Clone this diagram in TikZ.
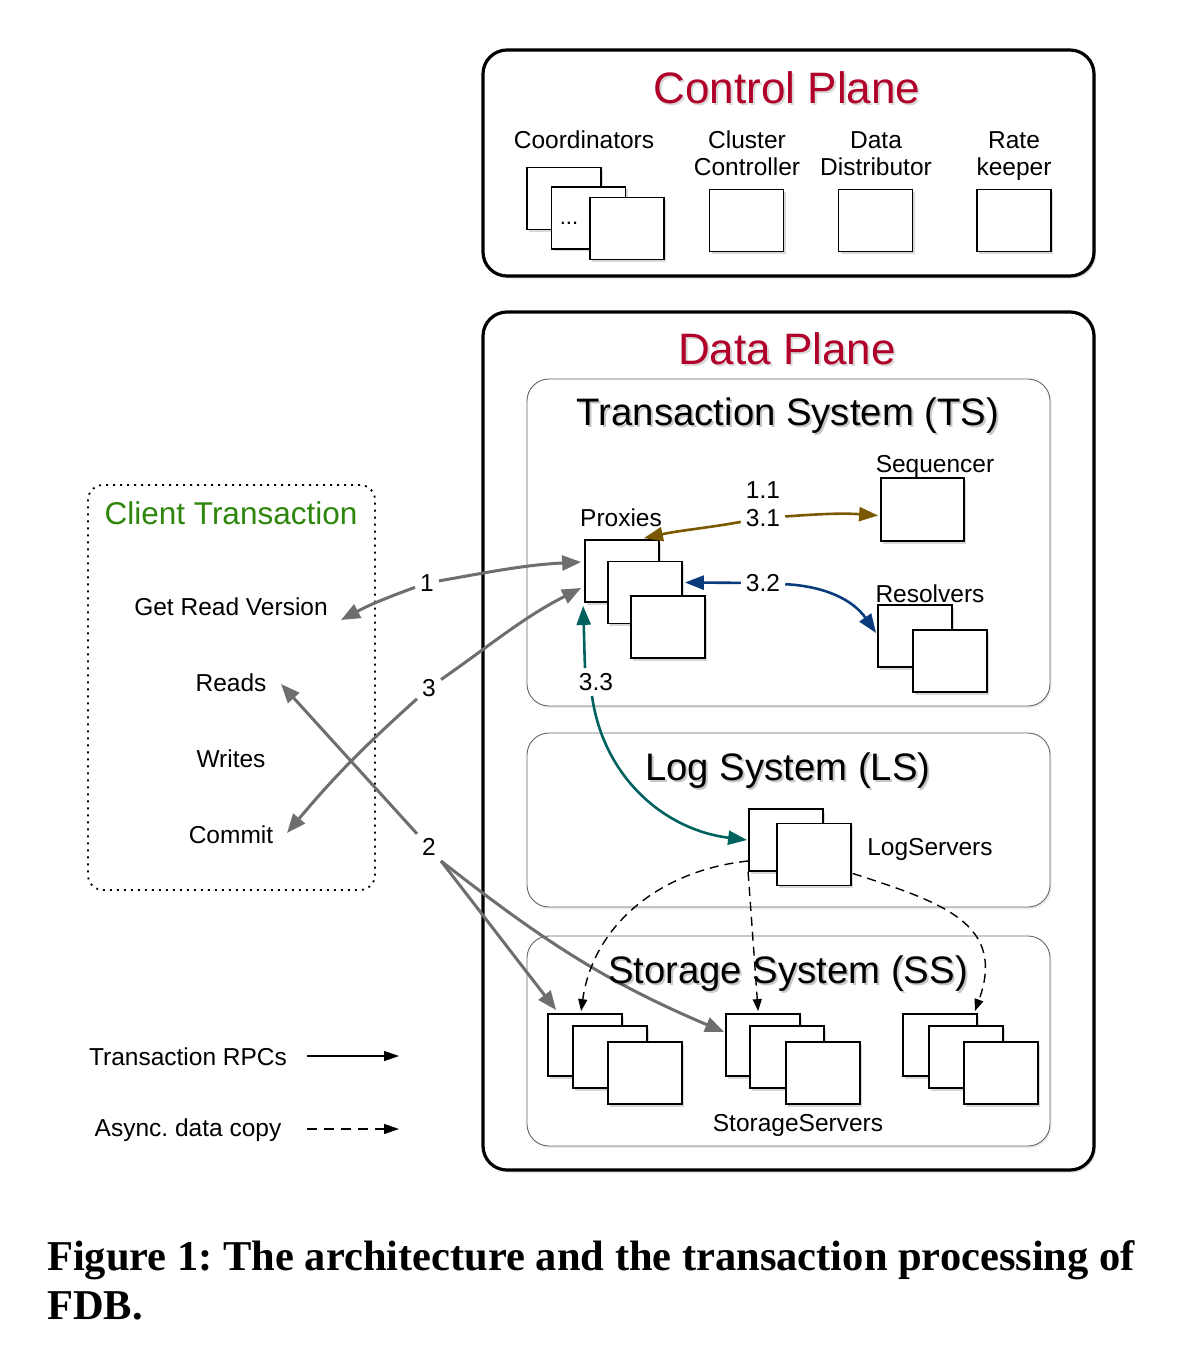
\documentclass[tikz,border=0pt]{standalone}
\usepackage{fontspec}
\setmainfont{Liberation Sans}
\newfontfamily\capfont{Liberation Serif}
\usetikzlibrary{arrows.meta,shadows,calc}
\definecolor{cpred}{HTML}{B0002A}
\definecolor{ctgreen}{HTML}{2E860C}
\definecolor{arrgray}{HTML}{6E6E6E}
\definecolor{brownarr}{HTML}{7A5800}
\definecolor{bluearr}{HTML}{0A3C7D}
\definecolor{tealarr}{HTML}{00625F}
\begin{document}
\frenchspacing
\begin{tikzpicture}[x=1pt,y=-1pt,
  srv/.style={draw=black, line width=1.8pt, fill=white, minimum width=74pt, minimum height=62pt, inner sep=0pt,
    drop shadow={shadow xshift=2pt, shadow yshift=-2.5pt, opacity=0.3}},
  plane/.style={draw=black, line width=3.2pt, rounded corners=24pt, fill=white, inner sep=0pt,
    drop shadow={shadow xshift=2pt, shadow yshift=-2.5pt, opacity=0.25}},
  sysbox/.style={draw=black!60, line width=0.9pt, rounded corners=22pt, fill=white, inner sep=0pt,
    drop shadow={shadow xshift=1.5pt, shadow yshift=-2pt, opacity=0.15}},
  lbl/.style={font=\fontsize{24.5}{27}\selectfont, inner sep=1pt, text height=17.6pt, text depth=0pt},
  lbl2/.style={font=\fontsize{24.5}{27}\selectfont, inner sep=1pt, align=center},
  num/.style={font=\fontsize{24.5}{27}\selectfont, inner sep=5pt, text height=17.6pt, text depth=0pt},
  bigt/.style={font=\fontsize{44}{50}\selectfont, inner sep=0pt, text height=31.7pt, text depth=0pt},
  syst/.style={font=\fontsize{38.3}{44}\selectfont, inner sep=0pt, text height=27.6pt, text depth=0pt},
  tsh/.style={text=black, opacity=0.22},
  garr/.style={draw=arrgray, line width=3pt, -{Triangle[length=19pt,width=15pt]}},
  brarr/.style={draw=brownarr, line width=2.6pt, -{Triangle[length=19pt,width=14pt]}},
  blarr/.style={draw=bluearr, line width=2.6pt, -{Triangle[length=19pt,width=14pt]}},
  tlarr/.style={draw=tealarr, line width=2.6pt, -{Triangle[length=19pt,width=14pt]}},
  dsh/.style={draw=black, line width=1.4pt, dash pattern=on 9pt off 6pt, -{Triangle[length=12pt,width=9pt]}},
  lgs/.style={draw=black, line width=1.3pt, -{Triangle[length=15pt,width=10pt]}},
  lgd/.style={draw=black, line width=1.3pt, dash pattern=on 10pt off 7pt, -{Triangle[length=15pt,width=10pt]}}
]
\useasboundingbox (0,0) rectangle (1192,1364);
\fill[white] (0,0) rectangle (1192,1364);

% ---------------- Control plane ----------------
\node[plane, minimum width=611pt, minimum height=226pt] (cp) at (788.5,163) {};
\node[bigt, tsh, opacity=0.15] (cpts) at (789,90) {Control Plane};
\node[bigt, text=cpred] (cpt) at (787,88) {Control Plane};

\node[lbl] (coordl) at (584,140) {Coordinators};
\node[lbl2] (ccl) at (747,153.4) {Cluster\\Controller};
\node[lbl2] (ddl) at (876,153.4) {Data\\Distributor};
\node[lbl2] (rkl) at (1014,155.9) {Rate\\keeper};

\node[srv] (c1) at (564,198.5) {};
\node[srv] (c2) at (588.5,218) {};
\node[font=\fontsize{22}{24}\selectfont, inner sep=0pt, text height=15.8pt, text depth=0pt] (cdots) at (569,217) {...};
\node[srv] (c3) at (627,228.5) {};
\node[srv] (cc) at (746.5,220.5) {};
\node[srv] (dd) at (875.5,220.5) {};
\node[srv] (rk) at (1014,220.5) {};

% ---------------- Data plane ----------------
\node[plane, minimum width=611pt, minimum height=858pt] (dp) at (788.5,741) {};
\node[bigt, tsh, opacity=0.15] (dpts) at (789,351) {Data Plane};
\node[bigt, text=cpred] (dpt) at (787,349) {Data Plane};

\node[sysbox, minimum width=523pt, minimum height=327pt] (ts) at (788.5,542.5) {};
\node[sysbox, minimum width=523pt, minimum height=174pt] (ls) at (788.5,820) {};
\node[sysbox, minimum width=523pt, minimum height=210pt] (ss) at (788.5,1041) {};

\node[syst, tsh] (tsts) at (790,414) {Transaction System (TS)};
\node[syst] (tst) at (788,412) {Transaction System (TS)};
\node[syst, tsh] (lsts) at (790,769) {Log System (LS)};
\node[syst] (lst) at (788,767) {Log System (LS)};

% Transaction system contents
\node[lbl] (seql) at (935,464) {Sequencer};
\node[srv, minimum width=83pt, minimum height=63pt] (seq) at (922.5,509.5) {};
\node[lbl] (proxl) at (621,518) {Proxies};
\node[srv] (p1) at (622,571) {};
\node[srv] (p2) at (645,592.5) {};
\node[srv] (p3) at (668,627) {};
\node[lbl] (resl) at (930,594) {Resolvers};
\node[srv] (r1) at (915,636) {};
\node[srv] (r2) at (950,661) {};

\node[num] (lab11) at (763,490) {1.1};
\node[num] (lab31) at (763,518) {3.1};
\node[num] (lab32) at (763,583) {3.2};
\node[num] (lab33) at (596,682) {3.3};

% Log system contents
\node[srv] (l1) at (786,840) {};
\node[srv] (l2) at (814,854.5) {};
\node[lbl] (logl) at (930,847) {LogServers};

% Storage system contents
\node[srv] (s1a) at (585,1045) {};
\node[srv] (s1b) at (610,1057) {};
\node[srv] (s1c) at (645,1073) {};
\node[srv] (s2a) at (763,1045) {};
\node[srv] (s2b) at (787,1057) {};
\node[srv] (s2c) at (823,1073) {};
\node[srv] (s3a) at (940,1045) {};
\node[srv] (s3b) at (966,1057) {};
\node[srv] (s3c) at (1001,1073) {};
\node[lbl] (stl) at (798,1123) {StorageServers};

% ---------------- Client transaction ----------------
\node[draw=black, line width=1.8pt, dash pattern=on 2pt off 5pt, rounded corners=15pt,
      minimum width=287pt, minimum height=405pt, inner sep=0pt] (cl) at (231.5,687.5) {};
\node[font=\fontsize{31.5}{36}\selectfont, text=ctgreen, inner sep=0pt, text height=22.7pt, text depth=0pt] (clt) at (231,513) {Client Transaction};
\node[lbl] (grv) at (231,607) {Get Read Version};
\node[lbl] (reads) at (231,683) {Reads};
\node[lbl] (writes) at (231,759) {Writes};
\node[lbl] (commit) at (231,835) {Commit};

\node[num] (lab1) at (427,583) {1};
\node[num] (lab3) at (429,688) {3};
\node[num] (lab2) at (429,847) {2};

\coordinate (grvT) at (341,620);
\coordinate (readT) at (281,684);
\coordinate (comT) at (287,833);

% ---------------- Gray transaction arrows ----------------
\draw[garr] (lab1) to[out=10,in=183] ($(p1.west)+(-3,-9)$);
\draw[garr] (lab1) to[out=200,in=28] (grvT);
\draw[garr] (lab3) to[out=35,in=207] ($(p1.west)+(-3,17)$);
\draw[garr] (lab3) to[out=222,in=50] (comT);
\draw[garr] (lab2) -- (readT);
\draw[garr] (lab2.south east) -- ($(s1a.north west)+(9,-3)$);
\draw[garr] (lab2.south east) to[out=-38,in=157] ($(s2a.west)+(-1,-13)$);

% ---------------- Coloured arrows ----------------
\draw[brarr] (lab31) to[out=190,in=12] ($(p1.north east)+(-16,-1)$);
\draw[brarr] (lab31) to[out=4,in=176] ($(seq.west)+(-2,6)$);
\draw[blarr] (lab32) -- ($(p2.east)+(2,-10)$);
\draw[blarr] (lab32) to[out=-3,in=125] ($(r1.west)+(-1,-3)$);
\draw[tlarr] ($(lab33.north)+(-11,0)$) to[out=92,in=-88] ($(p1.south west)+(-1,3)$);
\draw[tlarr] ($(lab33.south)+(-4,0)$) to[out=-82,in=173] ($(l1.west)+(-1,0)$);

% ---------------- Dashed async copy ----------------
\draw[dsh] ($(l1.west)+(0,21)$) to[out=186,in=82] ($(s1a.north west)+(34,-2)$);
\draw[dsh] (l1.south west) -- ($(s2a.north west)+(33,-2)$);
\draw[dsh] ($(l2.east)+(1,19)$) to[out=-18,in=70,looseness=1.3] ($(s3a.north east)+(-3,-2)$);

\node[syst, tsh] (ssts) at (790,972) {Storage System (SS)};
\node[syst] (sst) at (788,970) {Storage System (SS)};

% ---------------- Legend ----------------
\node[lbl] (lg1) at (188,1057) {Transaction RPCs};
\node[lbl] (lg2) at (188,1128) {Async. data copy};
\coordinate (lg1a) at (307,1056);
\coordinate (lg1b) at (399,1056);
\coordinate (lg2a) at (307,1129);
\coordinate (lg2b) at (399,1129);
\draw[lgs] (lg1a) -- (lg1b);
\draw[lgd] (lg2a) -- (lg2b);

% ---------------- Caption ----------------
\node[anchor=base west, inner sep=0pt, font=\capfont\bfseries\fontsize{42.5}{48}\selectfont] (cap1) at (47,1270)
  {Figure 1: The architecture and the transaction processing of};
\node[anchor=base west, inner sep=0pt, font=\capfont\bfseries\fontsize{42.5}{48}\selectfont] (cap2) at (47,1319) {FDB.};
\end{tikzpicture}
\end{document}
